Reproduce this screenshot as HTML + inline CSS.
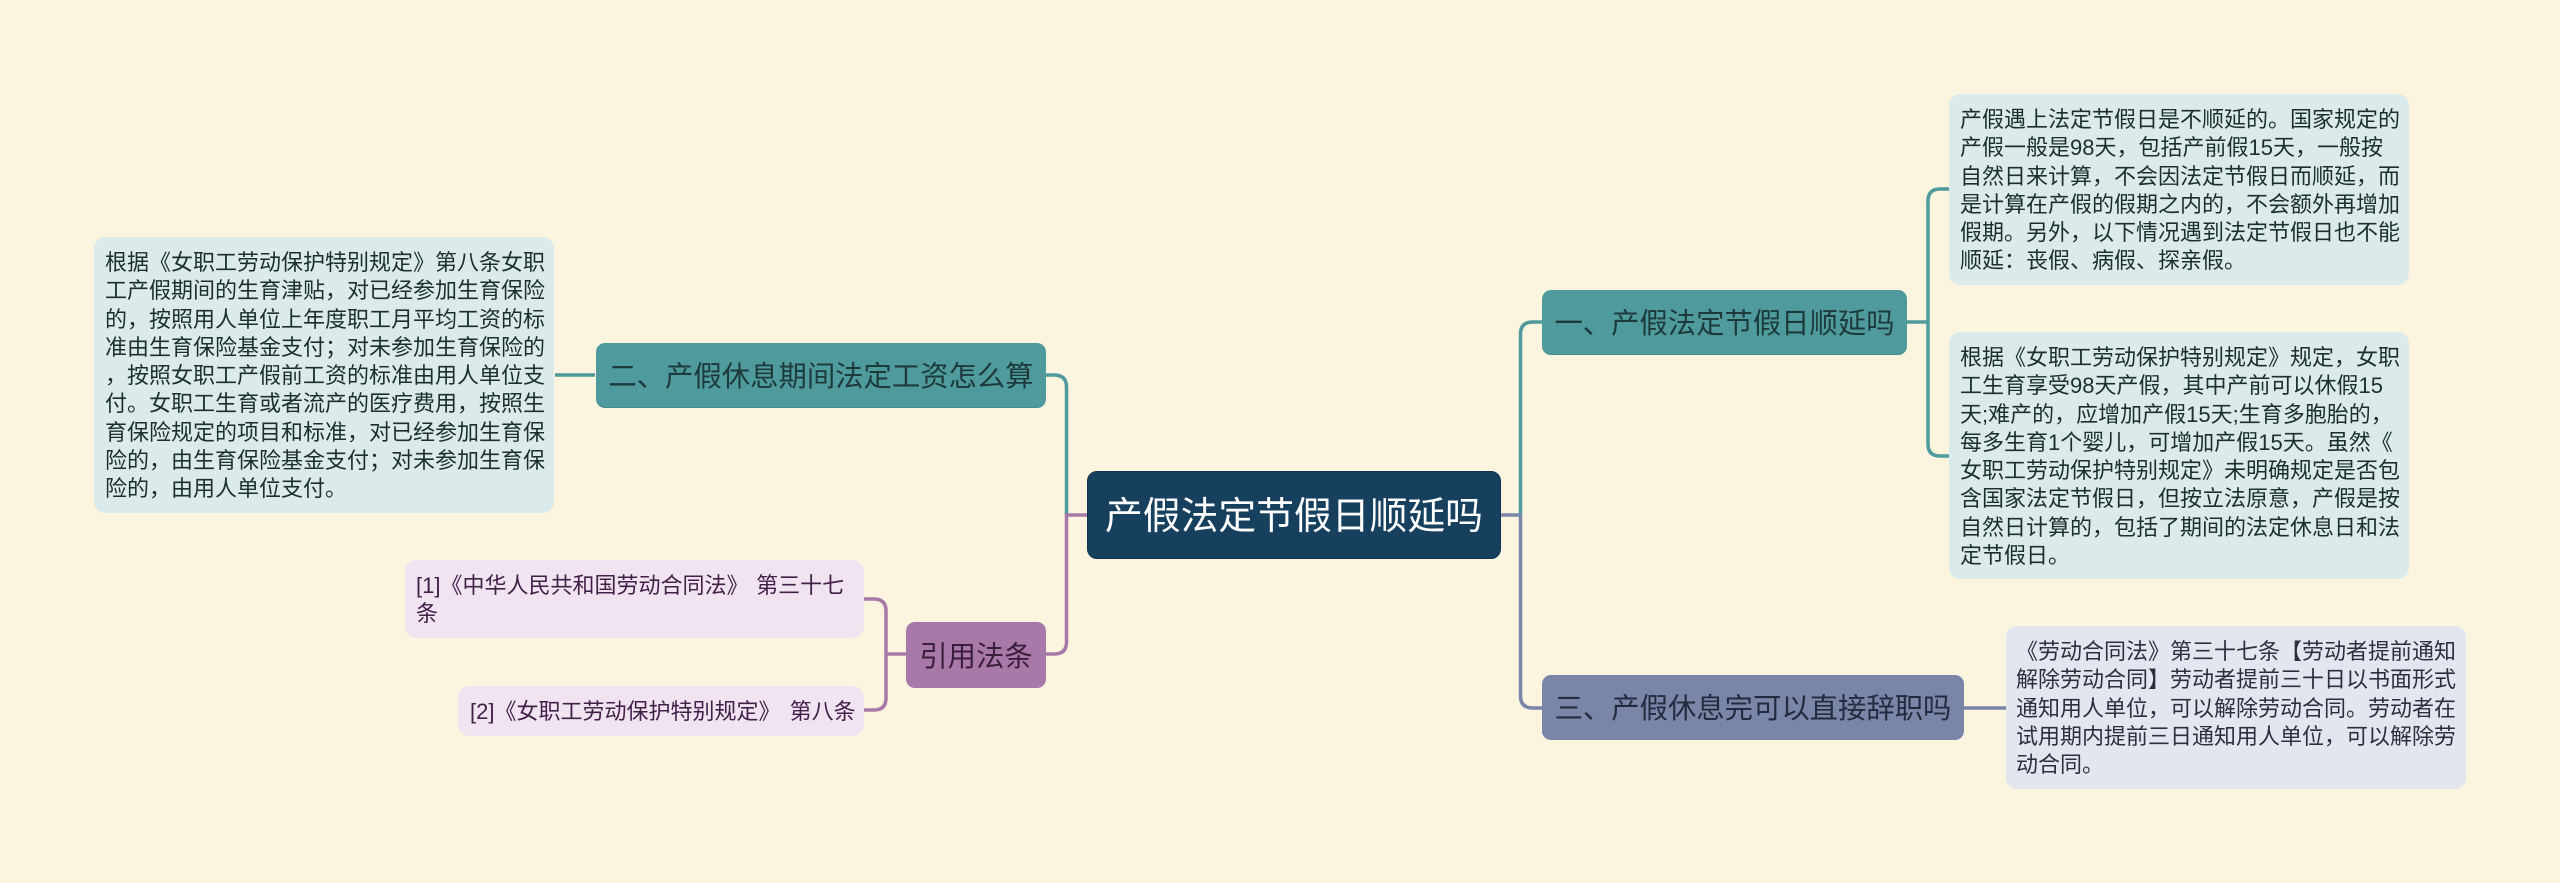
<!DOCTYPE html>
<html lang="zh-CN">
<head>
<meta charset="utf-8">
<title>产假法定节假日顺延吗</title>
<style>
html,body{margin:0;padding:0;width:2560px;height:883px;overflow:hidden;background:#fbf5df;}
body{position:relative;font-family:"Liberation Sans","Noto Sans CJK SC",sans-serif;}
svg{position:absolute;left:0;top:0;}
.n{position:absolute;box-sizing:border-box;white-space:nowrap;}
.node{display:flex;align-items:center;justify-content:center;border-radius:9px;font-size:28.35px;line-height:34px;padding-top:3px;}
.leaf{border-radius:11px;font-size:22px;line-height:28.25px;padding:12px 0 0 11px;}
.teal{background:#4f9a9c;color:#1d3a3b;border-bottom:1px solid #468c8e;}
.purple{background:#a878a9;color:#3a1f3b;}
.slate{background:#7a86a8;color:#252b3e;}
.lt{background:#dbeaea;color:#1c2e2e;}
.lp{background:#efe4ef;color:#43204a;}
.ls{background:#e3e6ee;color:#2a3040;}
</style>
</head>
<body>
<svg width="2560" height="883" viewBox="0 0 2560 883" fill="none" stroke-width="3.5">
  <!-- centre to left -->
  <path d="M1046 375H1054Q1066.5 375 1066.5 387V515" stroke="#4f9a9c"/>
  <path d="M1088 515H1066.5V642Q1066.5 654 1054 654H1046" stroke="#a878a9"/>
  <!-- centre to right -->
  <path d="M1520.5 515V334Q1520.5 322 1533 322H1542" stroke="#4f9a9c"/>
  <path d="M1500 515H1520.5V696Q1520.5 708 1533 708H1542" stroke="#7a86a8"/>
  <!-- node two -->
  <path d="M595 375H555" stroke="#4f9a9c"/>
  <!-- references -->
  <path d="M906 654H886" stroke="#a878a9"/>
  <path d="M864 599H874Q886 599 886 611V698Q886 710 874 710H864" stroke="#a878a9"/>
  <!-- node one -->
  <path d="M1907 322H1928" stroke="#4f9a9c"/>
  <path d="M1949 189H1940Q1928 189 1928 201V444Q1928 456 1940 456H1949" stroke="#4f9a9c"/>
  <!-- node three -->
  <path d="M1964 708H2006" stroke="#7a86a8"/>
</svg>

<div class="n node" style="left:1087px;top:471px;width:414px;height:88px;background:#17405f;color:#fff;font-size:37.8px;border-radius:10px;border:1px solid #12344e;">产假法定节假日顺延吗</div>

<div class="n node teal" style="left:596px;top:343px;width:450px;height:65px;">二、产假休息期间法定工资怎么算</div>
<div class="n node purple" style="left:906px;top:622px;width:140px;height:66px;">引用法条</div>
<div class="n node teal" style="left:1542px;top:290px;width:365px;height:65px;">一、产假法定节假日顺延吗</div>
<div class="n node slate" style="left:1542px;top:675px;width:422px;height:65px;">三、产假休息完可以直接辞职吗</div>

<div class="n leaf lt" style="left:94px;top:237px;width:460px;height:276px;">根据《女职工劳动保护特别规定》第八条女职<br>工产假期间的生育津贴，对已经参加生育保险<br>的，按照用人单位上年度职工月平均工资的标<br>准由生育保险基金支付；对未参加生育保险的<br>，按照女职工产假前工资的标准由用人单位支<br>付。女职工生育或者流产的医疗费用，按照生<br>育保险规定的项目和标准，对已经参加生育保<br>险的，由生育保险基金支付；对未参加生育保<br>险的，由用人单位支付。</div>

<div class="n leaf lp" style="left:405px;top:560px;width:459px;height:78px;padding-left:11px;word-spacing:1.5px;">[1]《中华人民共和国劳动合同法》 第三十七<br>条</div>
<div class="n leaf lp" style="left:458px;top:686px;width:406px;height:50px;padding-left:12px;word-spacing:3px;">[2]《女职工劳动保护特别规定》 第八条</div>

<div class="n leaf lt" style="left:1949px;top:94px;width:460px;height:191px;">产假遇上法定节假日是不顺延的。国家规定的<br>产假一般是98天，包括产前假15天，一般按<br>自然日来计算，不会因法定节假日而顺延，而<br>是计算在产假的假期之内的，不会额外再增加<br>假期。另外，以下情况遇到法定节假日也不能<br>顺延：丧假、病假、探亲假。</div>

<div class="n leaf lt" style="left:1949px;top:332px;width:460px;height:247px;">根据《女职工劳动保护特别规定》规定，女职<br>工生育享受98天产假，其中产前可以休假15<br>天;难产的，应增加产假15天;生育多胞胎的，<br>每多生育1个婴儿，可增加产假15天。虽然《<br>女职工劳动保护特别规定》未明确规定是否包<br>含国家法定节假日，但按立法原意，产假是按<br>自然日计算的，包括了期间的法定休息日和法<br>定节假日。</div>

<div class="n leaf ls" style="left:2006px;top:626px;width:460px;height:163px;padding-left:10px;">《劳动合同法》第三十七条【劳动者提前通知<br>解除劳动合同】劳动者提前三十日以书面形式<br>通知用人单位，可以解除劳动合同。劳动者在<br>试用期内提前三日通知用人单位，可以解除劳<br>动合同。</div>
</body>
</html>
